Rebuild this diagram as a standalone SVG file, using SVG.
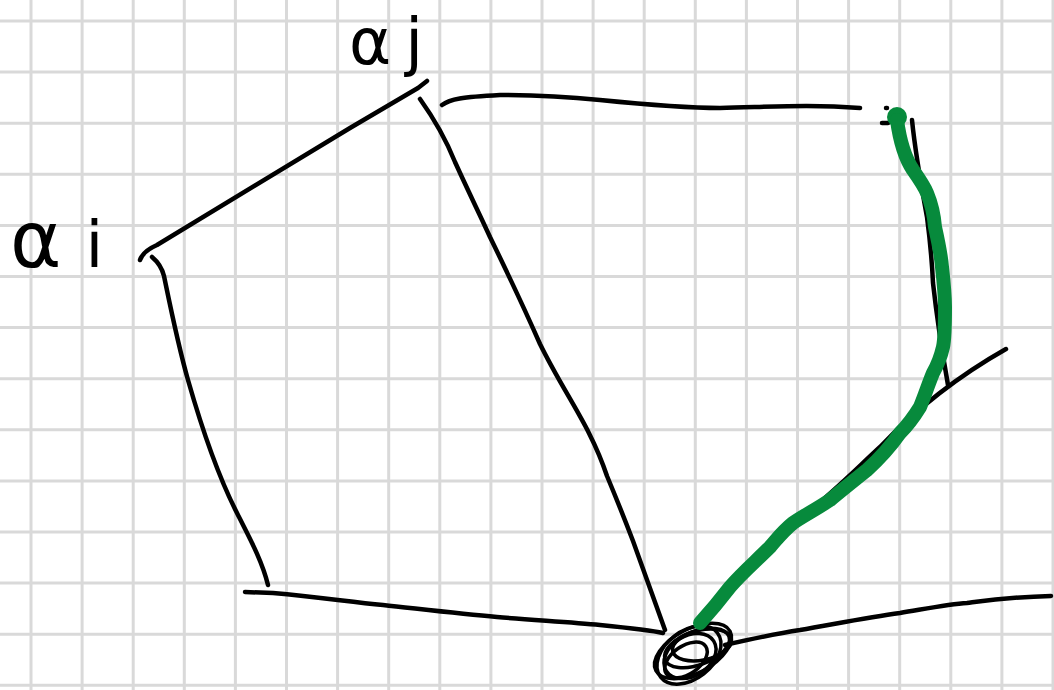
<svg xmlns="http://www.w3.org/2000/svg" width="1054" height="690" viewBox="0 0 1054 690">
<style>
.grid{stroke:#d9d9d9;stroke-width:3;fill:none}
.ink{stroke:#000;stroke-width:4.5;fill:none;stroke-linecap:round;stroke-linejoin:round}
.knot{stroke:#000;stroke-width:3.5;fill:none}
.green{stroke:#078a3c;stroke-width:14;fill:none;stroke-linecap:round;stroke-linejoin:round}
.lbl{font-family:"DejaVu Sans",sans-serif;font-size:78px;fill:#000}
.lblj{font-family:"DejaVu Sans",sans-serif;font-size:64px;fill:#000}
.sub{font-size:64px}
</style>
<rect width="1054" height="690" fill="#fff"/>
<g id="grid" class="grid">
<path d="M31,0V690M82.1,0V690M133.2,0V690M184.3,0V690M235.4,0V690M286.5,0V690M337.6,0V690M388.7,0V690M439.8,0V690M490.9,0V690M542,0V690M593.1,0V690M644.2,0V690M695.3,0V690M746.4,0V690M797.5,0V690M848.6,0V690M899.7,0V690M950.8,0V690M1001.9,0V690M1053,0V690"/>
<path d="M0,21H1054M0,72.1H1054M0,123.2H1054M0,174.3H1054M0,225.4H1054M0,276.5H1054M0,327.6H1054M0,378.7H1054M0,429.8H1054M0,480.9H1054M0,532H1054M0,583.1H1054M0,634.2H1054M0,685.3H1054"/>
</g>
<g id="node-alpha-i">
<text class="lbl" x="10" y="267">α<tspan class="sub" dx="24">i</tspan></text>
</g>
<g id="node-alpha-j">
<text class="lblj" x="349" y="64">α<tspan dx="14">j</tspan></text>
</g>
<g id="connectors" class="ink">
<path d="M140,260 C142,254 148,249 157,245 L350,128 L418,88 L427,81"/>
<path d="M152,257 C158,262 162,268 164,276 C170,305 178,345 188,380 C198,415 215,470 237,513 C248,535 262,560 268,585"/>
<path d="M420,99 C435,120 447,142 455,162 C470,195 480,215 490,237 C510,278 525,310 540,344 C565,395 590,425 607,476 C617,500 625,520 633,541 C645,575 655,603 665,630"/>
<path d="M442,105 C450,99 462,97 500,95 C540,95 570,97 600,100 C640,104 680,108 720,108 C770,107 810,104 860,108"/>
<path d="M912,120 C915,150 922,190 927,217 C930,240 932,262 933,283 C936,310 940,340 948,385"/>
<path d="M1006,349 C960,375 920,405 880,447 C850,475 830,495 807,513 C770,545 730,585 700,620"/>
<path d="M245,592 L273,593 C320,597 350,602 383,605 C420,609 460,614 497,617 C530,620 570,622 600,625 C630,628 650,630 663,633"/>
<path d="M725,645 C760,637 780,633 800,630 C840,623 870,617 900,613 C930,608 950,604 967,603 C990,600 1010,597 1051,596"/>
<path d="M886,108 L887,108"/>
<path d="M882,123 L888,123"/>
</g>
<g id="knot" class="knot">
<ellipse cx="693" cy="651" rx="42" ry="22" transform="rotate(-28 693 651)"/>
<ellipse cx="689" cy="655" rx="36" ry="24" transform="rotate(-38 689 655)"/>
<ellipse cx="697" cy="648" rx="34" ry="17" transform="rotate(-20 697 648)"/>
<ellipse cx="690" cy="656" rx="28" ry="20" transform="rotate(-32 690 656)"/>
<ellipse cx="702" cy="645" rx="30" ry="15" transform="rotate(-12 702 645)"/>
<ellipse cx="686" cy="660" rx="24" ry="14" transform="rotate(-35 686 660)"/>
</g>
<g id="green-path">
<circle cx="897" cy="117" r="10" fill="#078a3c"/>
<path class="green" d="M897,120 C899,135 903,155 913,170 C920,180 925,188 927,193 C932,205 934,215 935,227 C939,245 941,255 942,267 C944,285 945,297 945,307 C945,325 945,338 943,347 C940,360 937,366 933,373 C928,385 925,395 920,407 C912,420 905,428 900,433 C888,450 878,460 867,470 C852,482 842,490 830,500 C815,510 803,516 793,523 C782,532 778,538 770,547 C755,562 742,573 730,587 C720,600 710,612 700,623"/>
</g>
</svg>
